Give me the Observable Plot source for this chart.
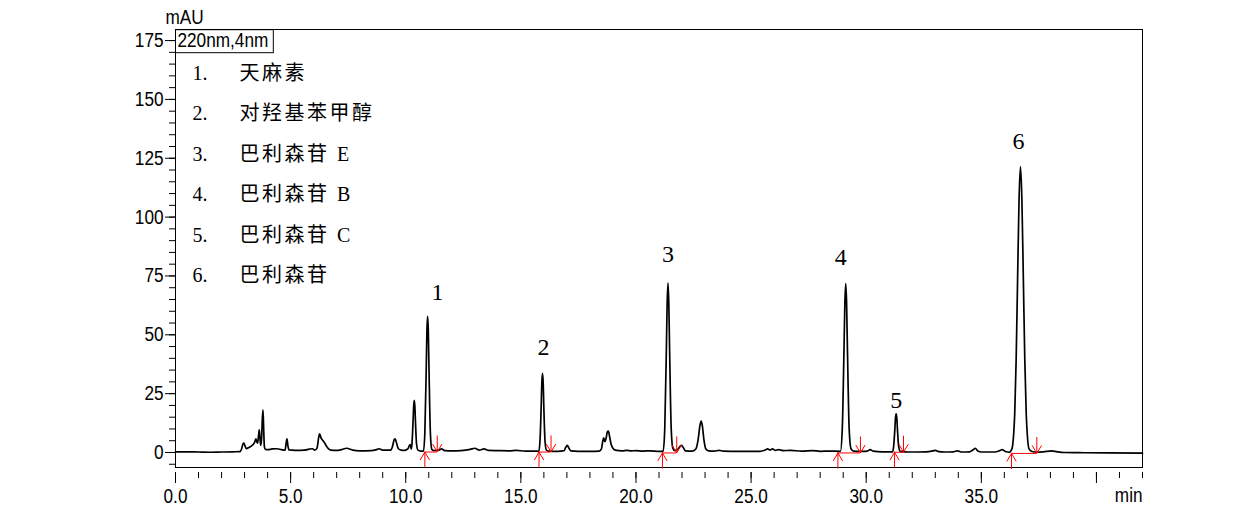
<!DOCTYPE html>
<html><head><meta charset="utf-8">
<script src="https://cdn.jsdelivr.net/npm/d3@7"></script>
<script src="https://cdn.jsdelivr.net/npm/@observablehq/plot@0.6"></script>
<style>body{margin:0;background:#fff;} svg{display:block}</style>
</head><body>
<script>
// ---- data ----
const traceTime = [
 0.0,0.5,1.0,1.5,2.0,2.5,2.8,2.87,2.93,2.97,3.02,3.08,3.2,3.35,3.43,3.49,3.54,3.57,3.61,3.64,3.67,3.70,3.74,3.77,3.80,3.83,3.86,3.90,
 4.0,4.2,4.4,4.6,4.76,4.80,4.84,4.88,4.93,5.2,5.6,5.8,5.94,6.05,6.15,6.22,6.26,6.32,6.40,6.48,6.55,6.65,6.75,7.0,7.2,7.43,7.7,
 8.0,8.5,8.7,8.85,9.0,9.35,9.42,9.50,9.54,9.60,9.68,9.80,9.95,10.10,10.17,10.20,10.24,10.27,10.32,10.345,10.37,10.395,10.42,10.47,10.53,10.65,
 10.77,10.83,10.89,10.92,10.95,10.98,11.01,11.07,11.13,11.22,11.45,11.55,11.7,12.0,12.4,12.8,13.0,13.2,13.4,13.6,14.0,14.5,14.8,15.2,15.6,
 15.78,15.83,15.885,15.91,15.94,15.97,15.995,16.05,16.11,16.2,16.6,16.88,16.95,17.02,17.08,17.17,17.5,18.0,18.4,18.5,18.56,18.60,18.65,18.70,18.76,18.80,18.85,18.92,
 19.0,19.1,19.4,19.6,19.8,20.0,20.3,20.6,21.0,21.18,21.25,21.32,21.355,21.39,21.425,21.46,21.53,21.60,21.68,21.8,21.9,21.98,22.06,22.15,22.45,
 22.6,22.7,22.78,22.83,22.88,22.95,23.03,23.15,23.4,23.6,23.8,24.5,25.4,25.6,25.72,25.82,25.93,26.05,26.2,26.4,26.7,27.2,27.67,28.0,28.4,
 28.88,28.96,29.035,29.073,29.11,29.148,29.185,29.26,29.34,29.45,29.8,30.05,30.17,30.3,30.7,31.15,31.19,31.245,31.27,31.30,31.33,31.355,31.41,31.48,
 31.86,32.6,32.9,33.0,33.15,33.4,33.8,33.97,34.15,34.5,34.65,34.74,34.85,35.0,35.6,35.8,35.9,36.05,36.2,
 36.325,36.45,36.5125,36.575,36.6375,36.70,36.7625,36.825,36.8875,36.95,37.075,37.2,37.4,37.7,38.05,38.3,38.6,39.5,40.5,42.0
];
const traceMAU = [
 0.3,0.3,0.2,0.1,0.2,0.3,0.4,1.5,3.6,4.0,2.8,1.6,2.2,3.2,4.2,5.8,4.3,4.0,7.5,9.6,6.0,3.0,6.0,14.0,18.1,10.0,2.5,1.4,
 1.2,1.5,1.6,1.2,1.0,3.5,5.8,3.0,1.1,0.9,1.0,1.4,1.6,1.0,2.0,6.5,7.9,6.2,5.1,4.0,2.8,1.5,1.0,0.9,1.2,1.8,1.0,
 0.7,0.8,1.1,1.6,1.0,1.0,2.4,5.5,5.8,4.0,1.6,1.0,0.9,1.6,3.2,3.4,1.4,3.6,13.7,19.7,22.1,19.7,13.7,3.6,1.0,0.6,
 0.6,8.4,35.6,51.6,57.8,51.6,35.6,8.4,1.4,0.8,1.0,1.5,0.8,0.7,0.8,1.3,1.8,1.0,1.5,0.9,0.8,0.7,0.9,0.6,0.6,
 0.5,4.8,20.3,29.6,33.6,29.6,20.3,4.8,1.0,0.6,0.5,0.8,2.2,3.0,2.0,0.7,0.5,0.5,0.6,1.5,5.0,6.2,4.6,6.0,8.8,9.1,7.0,3.5,
 1.8,1.0,0.7,0.9,0.7,0.8,0.6,0.7,0.5,0.5,10.2,43.9,63.6,72.0,63.6,43.9,10.2,1.8,0.8,1.2,2.4,3.0,2.0,0.7,0.6,
 1.5,5.5,11.5,13.3,11.5,5.5,1.6,0.7,0.6,0.9,0.6,0.5,0.5,1.0,1.5,1.1,1.5,0.9,1.2,0.8,0.9,0.6,0.8,0.5,0.6,
 0.5,10.0,43.8,63.4,71.8,63.4,43.8,10.0,1.6,0.6,0.5,0.6,1.2,0.6,0.3,0.3,2.5,10.1,14.5,16.4,14.5,10.1,2.5,0.5,
 0.2,0.3,0.7,0.9,0.4,0.2,0.3,0.7,0.2,0.3,1.2,1.8,0.6,0.2,0.2,0.8,1.2,0.4,0.1,
 1.45,16.5,39.5,73.7,107.2,121.5,107.2,73.7,39.5,16.5,1.45,0.4,0.1,0.3,0.7,0.3,0.0,-0.1,-0.2,-0.3
];
const peakNumbers = ["1", "2", "3", "4", "5", "6"];
const peakNames = ["天麻素", "对羟基苯甲醇", "巴利森苷 E", "巴利森苷 B", "巴利森苷 C", "巴利森苷"];
const peakApexTime = [10.95, 15.94, 21.39, 29.11, 31.30, 36.70];
const peakApexMAU = [57.8, 33.6, 72.0, 71.8, 16.4, 121.5];
const peakStart = [10.83, 15.79, 21.15, 28.77, 31.23, 36.31];
const peakEnd = [11.37, 16.31, 21.77, 29.75, 31.62, 37.41];
const peakBase = [0.2, 0.2, -0.2, -0.2, 0.1, -0.4];
const xMajorTicks = [0, 5, 10, 15, 20, 25, 30, 35, 40];
const xTickLabels = ["0.0", "5.0", "10.0", "15.0", "20.0", "25.0", "30.0", "35.0", ""];
const xMinorTicks = [0,1,2,3,4,5,6,7,8,9,10,11,12,13,14,15,16,17,18,19,20,21,22,23,24,25,26,27,28,29,30,31,32,33,34,35,36,37,38,39,40,41,42];
const yMajorTicks = [0, 25, 50, 75, 100, 125, 150, 175];
const yMinorTicks = [-5,0,5,10,15,20,25,30,35,40,45,50,55,60,65,70,75,80,85,90,95,100,105,110,115,120,125,130,135,140,145,150,155,160,165,170,175];
const yUnit = "mAU";
const xUnit = "min";
const wavelengthLabel = "220nm,4nm";

// ---- tables built from the arrays ----
const trace = traceTime.map((t, i) => ({t, v: traceMAU[i]}));
const integ = peakStart.map((s, i) => ({start: s, end: peakEnd[i], base: peakBase[i]}));

// ---- style / layout ----
const RED = "#ff0000";
const ARROW = 6.8; // shaft length in mAU
const labelNudge = [[10, -24], [1, -26], [0, -29], [-5, -26], [0, -14], [-2, -25]];
const SERIF = "'Liberation Serif', 'Times New Roman', 'Noto Sans CJK SC', serif";
const SANS = "'Liberation Sans', Arial, sans-serif";

const chevronUp = {draw(ctx) { ctx.moveTo(-4.7, 8); ctx.lineTo(0, 0); ctx.lineTo(4.7, 8); }};
const chevronDown = {draw(ctx) { ctx.moveTo(-4.7, -8); ctx.lineTo(0, 0); ctx.lineTo(4.7, -8); }};

const xLab = new Map(xMajorTicks.map((d, i) => [d, xTickLabels[i]]));

const chart = Plot.plot({
  width: 1260,
  height: 513,
  marginLeft: 175,
  marginRight: 118,
  marginTop: 29,
  marginBottom: 41,
  style: {fontFamily: SANS, fontSize: "20px", color: "black", background: "white"},
  x: {domain: [0, 42], label: null},
  y: {domain: [-8.5, 179.7], label: null},
  marks: [
    Plot.frame({stroke: "black", insetBottom: 5}),
    Plot.axisX({ticks: xMinorTicks, tickSize: 6, tickFormat: () => "", label: null}),
    Plot.axisX({ticks: xMajorTicks, tickSize: 11, tickPadding: 5, tickFormat: d => xLab.get(d), label: null, fontSize: 20}),
    Plot.axisY({ticks: yMinorTicks, tickSize: 6, tickFormat: () => "", label: null}),
    Plot.axisY({ticks: yMajorTicks, tickSize: 10, tickPadding: 2, tickFormat: d => String(d), label: null, fontSize: 20}),
    Plot.text([yUnit], {frameAnchor: "top-left", dx: -10, dy: -12, textAnchor: "start", lineAnchor: "middle", fontSize: 20}),
    Plot.text([xUnit], {frameAnchor: "bottom-right", dx: 0, dy: 23, textAnchor: "end", lineAnchor: "middle", fontSize: 20}),
    Plot.text([wavelengthLabel], {frameAnchor: "top-left", dx: 2, dy: 11.3, textAnchor: "start", lineAnchor: "middle", fontSize: 20}),
    // legend
    ...peakNumbers.map((n, i) => Plot.text([n + "."], {frameAnchor: "top-left", dx: 17, dy: 44 + i * 40.5, textAnchor: "start", lineAnchor: "middle", fontFamily: SERIF, fontSize: 20})),
    ...peakNames.map((n, i) => Plot.text([n], {frameAnchor: "top-left", dx: 64, dy: 44 + i * 40.5, textAnchor: "start", lineAnchor: "middle", fontFamily: SERIF, fontSize: 20})),
    // trace
    Plot.line(trace, {x: "t", y: "v", curve: "monotone-x", stroke: "black", strokeWidth: 1.7}),
    // integration marks
    Plot.ruleY(integ, {x1: "start", x2: "end", y: "base", stroke: RED, strokeWidth: 1}),
    Plot.ruleX(integ, {x: "start", y1: d => d.base - ARROW, y2: "base", stroke: RED, strokeWidth: 1}),
    Plot.ruleX(integ, {x: "end", y1: "base", y2: d => d.base + ARROW, stroke: RED, strokeWidth: 1}),
    Plot.dot(integ, {x: "start", y: "base", symbol: chevronUp, fill: "none", stroke: RED, strokeWidth: 1}),
    Plot.dot(integ, {x: "end", y: "base", symbol: chevronDown, fill: "none", stroke: RED, strokeWidth: 1}),
    // peak numbers
    ...peakNumbers.map((n, i) => Plot.text([i], {x: j => peakApexTime[j], y: j => peakApexMAU[j], text: j => peakNumbers[j],
      dx: labelNudge[i][0], dy: labelNudge[i][1], textAnchor: "middle", lineAnchor: "middle", fontFamily: SERIF, fontSize: 24}))
  ]
});
document.body.append(chart);

const texts = Array.from(chart.querySelectorAll("text"));
// narrow the sans labels like the instrument font
texts.forEach(t => {
  const ff = getComputedStyle(t).fontFamily;
  if (/Liberation Sans/.test(ff)) {
    const len = t.getComputedTextLength();
    if (len > 0) {
      t.setAttribute("textLength", (len * 0.86).toFixed(1));
      t.setAttribute("lengthAdjust", "spacingAndGlyphs");
    }
  }
});
texts.filter(t => peakNames.includes(t.textContent)).forEach(t => t.style.letterSpacing = "2.5px");

// box around the wavelength label
const wl = texts.find(t => t.textContent === wavelengthLabel);
if (wl) {
  const bb = wl.getBBox();
  const r = document.createElementNS("http://www.w3.org/2000/svg", "rect");
  r.setAttribute("x", bb.x - 2);
  r.setAttribute("y", bb.y + 0.5);
  r.setAttribute("width", bb.width + 7);
  r.setAttribute("height", bb.height + 1);
  r.setAttribute("fill", "none");
  r.setAttribute("stroke", "black");
  if (wl.getAttribute("transform")) r.setAttribute("transform", wl.getAttribute("transform"));
  wl.parentNode.insertBefore(r, wl);
}
</script>
</body></html>
